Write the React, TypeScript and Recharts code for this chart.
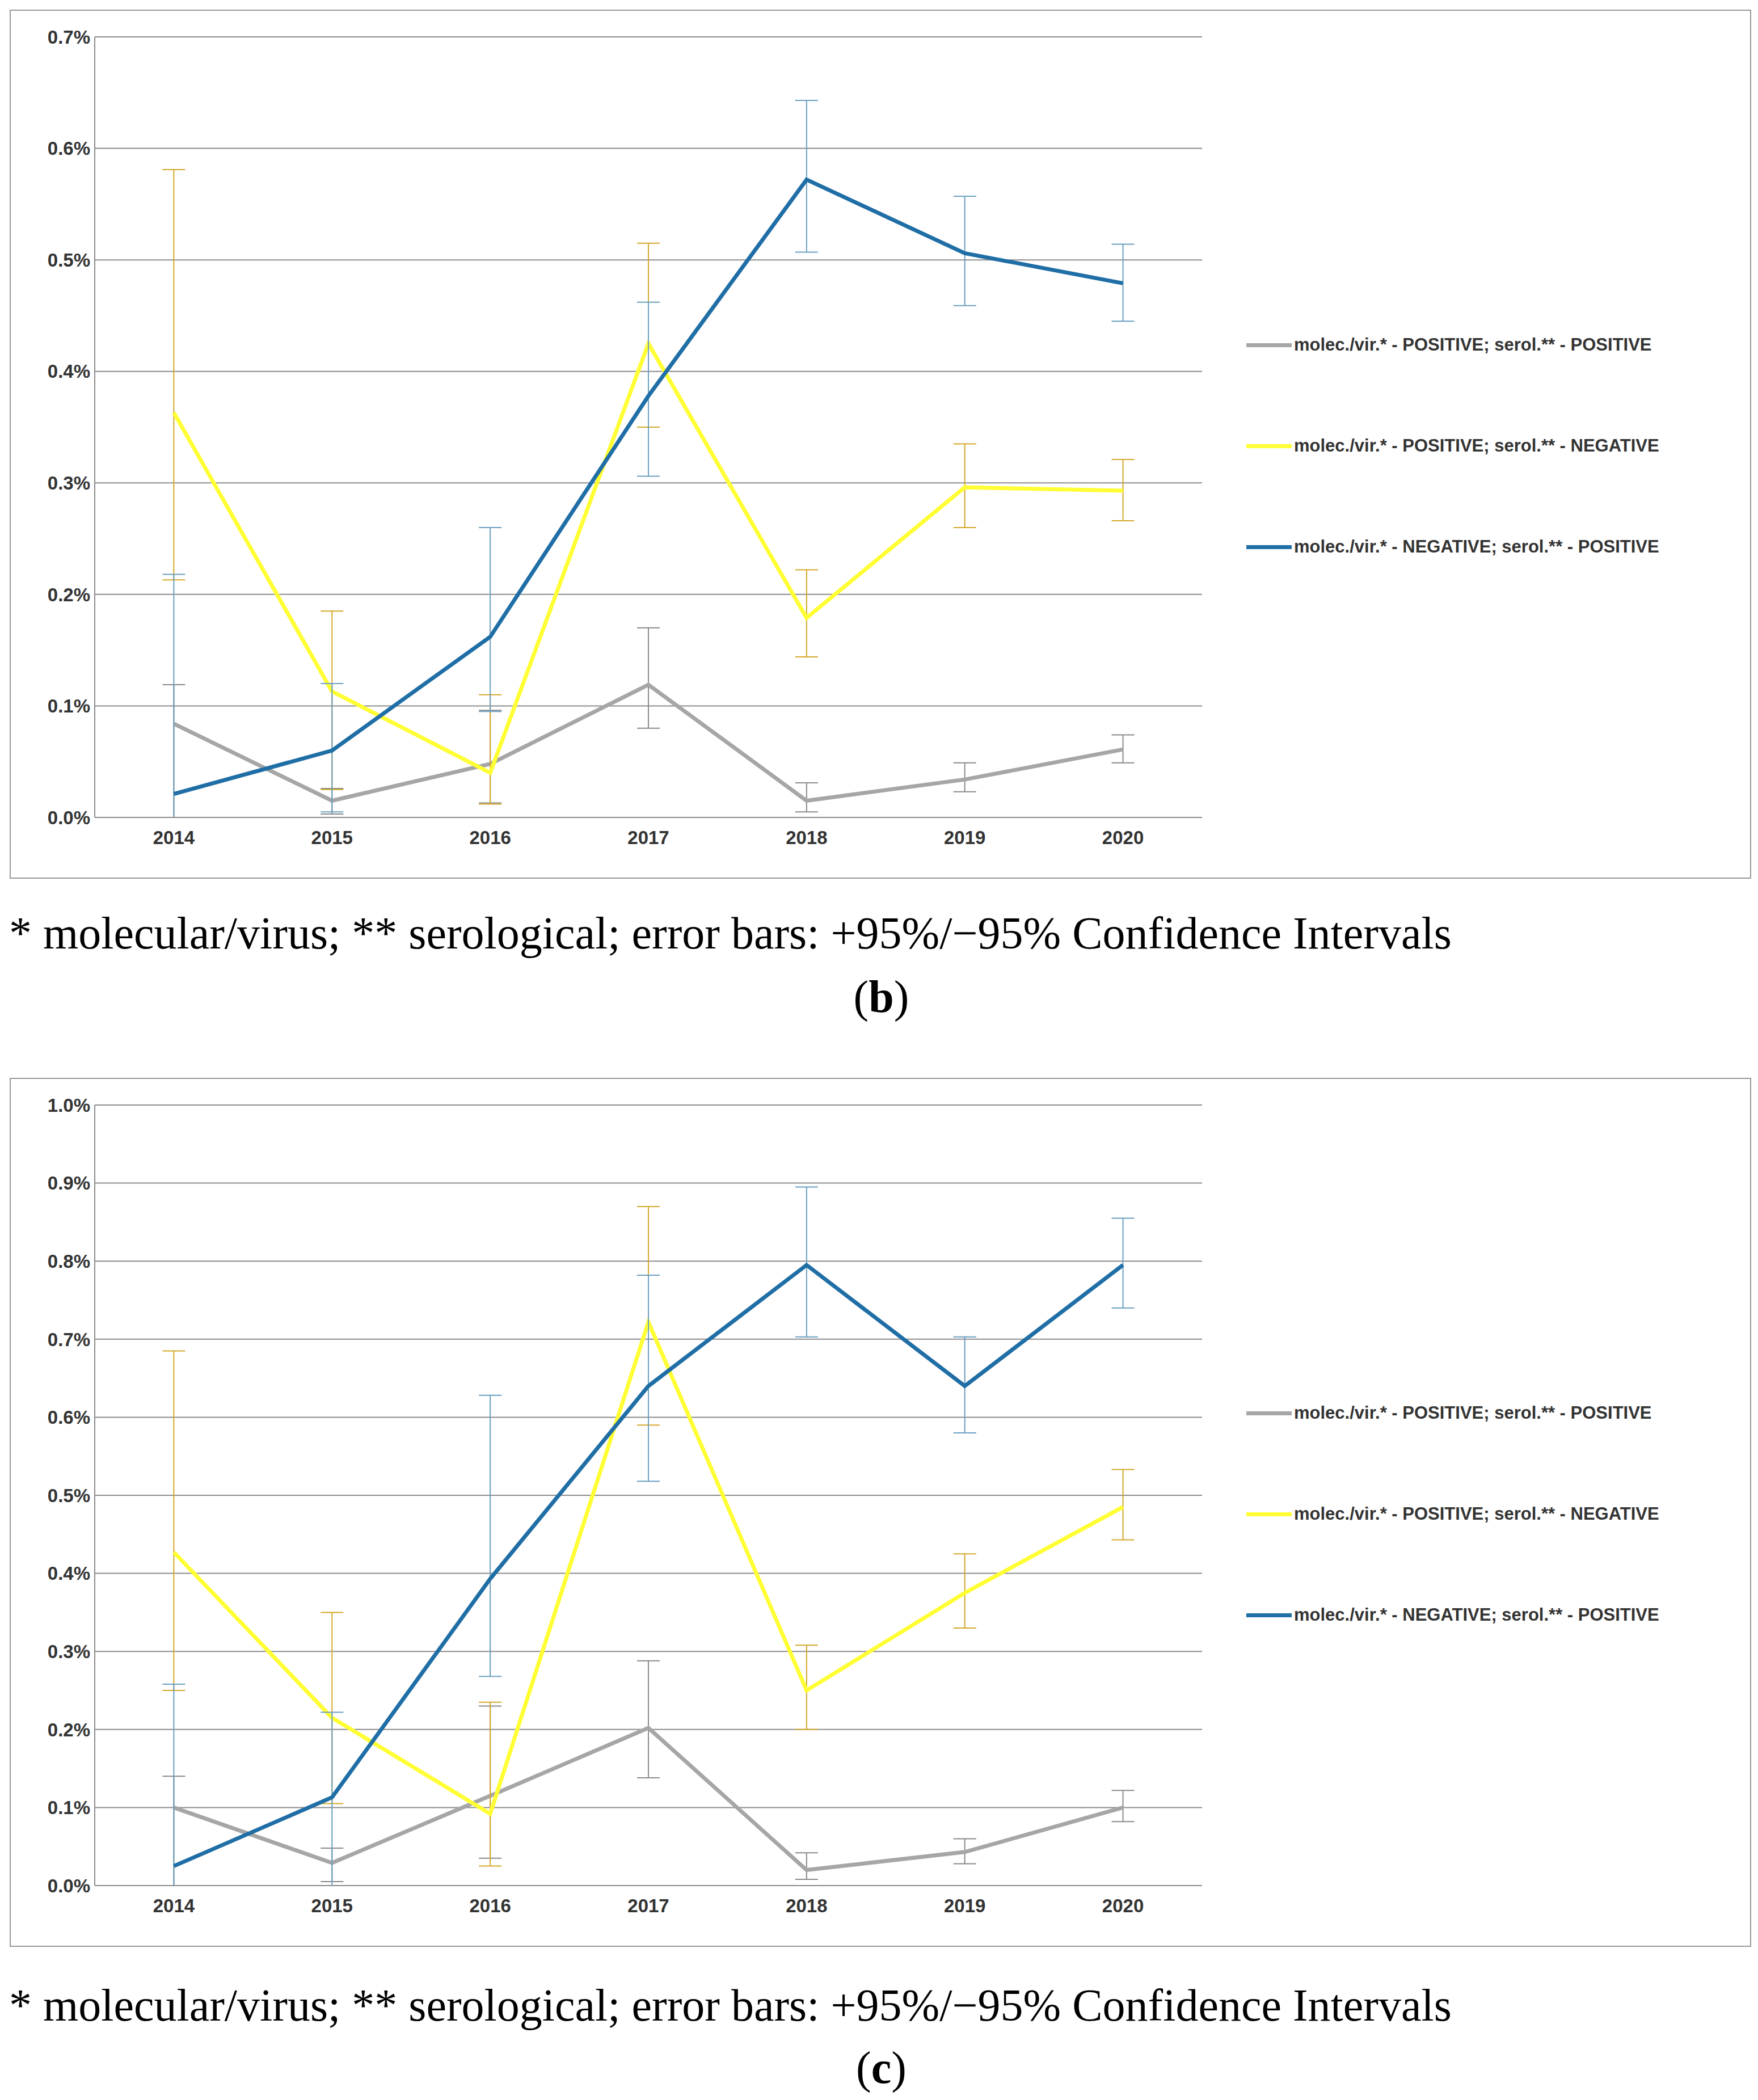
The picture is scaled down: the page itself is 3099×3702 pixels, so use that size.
import { CartesianGrid, ComposedChart, ErrorBar, Line, XAxis, YAxis } from "recharts";

const years = ["2014", "2015", "2016", "2017", "2018", "2019", "2020"];

// panel (b)
const bGrey = [0.084, 0.015, 0.048, 0.119, 0.015, 0.034, 0.061];
const bGreyLo = [0.0, 0.003, 0.013, 0.08, 0.005, 0.023, 0.049];
const bGreyHi = [0.119, 0.026, 0.096, 0.17, 0.031, 0.049, 0.074];
const bYellow = [0.363, 0.113, 0.04, 0.425, 0.179, 0.296, 0.293];
const bYellowLo = [0.213, 0.025, 0.012, 0.35, 0.144, 0.26, 0.266];
const bYellowHi = [0.581, 0.185, 0.11, 0.515, 0.222, 0.335, 0.321];
const bBlue = [0.021, 0.06, 0.162, 0.378, 0.572, 0.506, 0.479];
const bBlueLo = [0.0, 0.005, 0.095, 0.306, 0.507, 0.459, 0.445];
const bBlueHi = [0.218, 0.12, 0.26, 0.462, 0.643, 0.557, 0.514];
const bTicks = [0, 0.1, 0.2, 0.3, 0.4, 0.5, 0.6, 0.7];

// panel (c)
const cGrey = [0.1, 0.029, 0.115, 0.202, 0.02, 0.043, 0.1];
const cGreyLo = [0.0, 0.005, 0.035, 0.138, 0.008, 0.028, 0.082];
const cGreyHi = [0.14, 0.048, 0.23, 0.288, 0.042, 0.06, 0.122];
const cYellow = [0.427, 0.215, 0.092, 0.722, 0.25, 0.375, 0.485];
const cYellowLo = [0.25, 0.105, 0.025, 0.59, 0.2, 0.33, 0.443];
const cYellowHi = [0.685, 0.35, 0.235, 0.87, 0.308, 0.425, 0.533];
const cBlue = [0.025, 0.113, 0.393, 0.64, 0.795, 0.64, 0.795];
const cBlueLo = [0.0, 0.0, 0.268, 0.518, 0.703, 0.58, 0.74];
const cBlueHi = [0.258, 0.222, 0.628, 0.782, 0.895, 0.703, 0.855];
const cTicks = [0, 0.1, 0.2, 0.3, 0.4, 0.5, 0.6, 0.7, 0.8, 0.9, 1.0];

const legendNames = [
  "molec./vir.* - POSITIVE; serol.** - POSITIVE",
  "molec./vir.* - POSITIVE; serol.** - NEGATIVE",
  "molec./vir.* - NEGATIVE; serol.** - POSITIVE",
];
const caption = "* molecular/virus; ** serological; error bars: +95%/\u221295% Confidence Intervals";

const GREY = "#a6a6a6";
const YELLOW = "#ffff33";
const BLUE = "#1f6ea6";

const build = (g, gl, gh, y, yl, yh, b, bl, bh) =>
  years.map((year, i) => ({
    year,
    grey: g[i],
    greyErr: [g[i] - gl[i], gh[i] - g[i]],
    yellow: y[i],
    yellowErr: [y[i] - yl[i], yh[i] - y[i]],
    blue: b[i],
    blueErr: [b[i] - bl[i], bh[i] - b[i]],
  }));

const dataB = build(bGrey, bGreyLo, bGreyHi, bYellow, bYellowLo, bYellowHi, bBlue, bBlueLo, bBlueHi);
const dataC = build(cGrey, cGreyLo, cGreyHi, cYellow, cYellowLo, cYellowHi, cBlue, cBlueLo, cBlueHi);

const LegendBox = () => (
  <div
    style={{
      position: "absolute",
      left: 2178,
      top: 500,
      fontFamily: "Arial, 'Liberation Sans'",
      fontWeight: "bold",
      fontSize: 31,
      color: "#333",
      whiteSpace: "nowrap",
    }}
  >
    {[GREY, YELLOW, BLUE].map((c, i) => (
      <div key={i} style={{ display: "flex", alignItems: "center", height: 178 }}>
        <div style={{ width: 80, height: 7, background: c, marginRight: 4 }} />
        <span>{legendNames[i]}</span>
      </div>
    ))}
  </div>
);

function Panel({ data, ticks, top }) {
  const max = ticks[ticks.length - 1];
  return (
    <div
      style={{
        position: "absolute",
        left: 9,
        top,
        width: 3066,
        height: 1528,
        border: "2px solid #999",
        background: "#fff",
      }}
    >
      <ComposedChart width={3066} height={1528} data={data} margin={{ top: 46, right: 966, bottom: 40, left: 0 }}>
        <CartesianGrid vertical={false} stroke="#8c8c8c" strokeWidth={2} />
        <XAxis
          dataKey="year"
          scale="band"
          stroke="#8c8c8c"
          strokeWidth={2}
          height={66}
          tickLine={false}
          tick={{ fontFamily: "Arial, 'Liberation Sans'", fontWeight: "bold", fontSize: 33, fill: "#333" }}
          tickMargin={18}
        />
        <YAxis
          domain={[0, max]}
          ticks={ticks}
          width={148}
          stroke="#8c8c8c"
          strokeWidth={2}
          tickLine={false}
          tickFormatter={(v) => `${v.toFixed(1)}%`}
          tick={{ fontFamily: "Arial, 'Liberation Sans'", fontWeight: "bold", fontSize: 33, fill: "#333" }}
        />
        <Line dataKey="grey" stroke={GREY} strokeWidth={7} dot={false} isAnimationActive={false}>
          <ErrorBar dataKey="greyErr" direction="y" width={20} stroke="#8a8a8a" strokeWidth={2} />
        </Line>
        <Line dataKey="yellow" stroke={YELLOW} strokeWidth={7} dot={false} isAnimationActive={false}>
          <ErrorBar dataKey="yellowErr" direction="y" width={20} stroke="#d4a82a" strokeWidth={2} />
        </Line>
        <Line dataKey="blue" stroke={BLUE} strokeWidth={7} dot={false} isAnimationActive={false}>
          <ErrorBar dataKey="blueErr" direction="y" width={20} stroke="#6a9fc0" strokeWidth={2} />
        </Line>
      </ComposedChart>
      <LegendBox />
    </div>
  );
}

const capStyle = { position: "absolute" as const, fontFamily: "'Liberation Serif', serif", fontSize: 80, color: "#000", whiteSpace: "nowrap" as const };

export default function App() {
  return (
    <div style={{ position: "relative", width: 3091, height: 3694, background: "#fff" }}>
      <Panel data={dataB} ticks={bTicks} top={9} />
      <div style={{ ...capStyle, left: 8, top: 1592 }}>{caption}</div>
      <div style={{ ...capStyle, left: 0, width: 3091, textAlign: "center", top: 1704 }}>
        (<b>b</b>)
      </div>
      <Panel data={dataC} ticks={cTicks} top={1892} />
      <div style={{ ...capStyle, left: 8, top: 3482 }}>{caption}</div>
      <div style={{ ...capStyle, left: 0, width: 3091, textAlign: "center", top: 3592 }}>
        (<b>c</b>)
      </div>
    </div>
  );
}
